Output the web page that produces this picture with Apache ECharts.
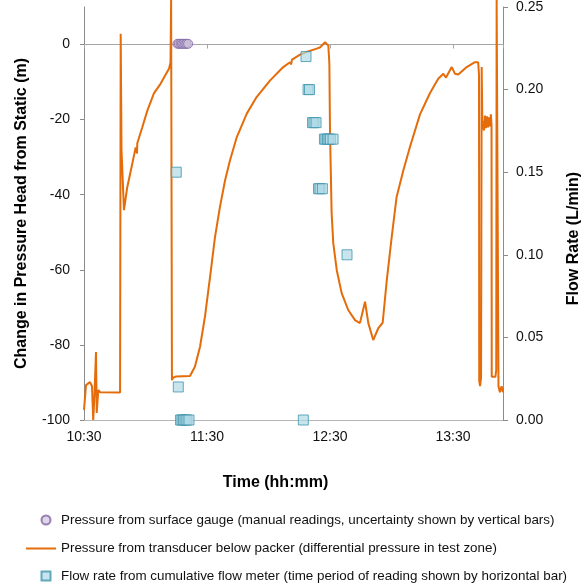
<!DOCTYPE html>
<html><head><meta charset="utf-8">
<script src="https://cdn.jsdelivr.net/npm/echarts@6/dist/echarts.min.js"></script>
<style>html,body{margin:0;padding:0;background:#fff}#c{width:584px;height:584px}</style>
</head><body><div id="c"></div>
<script>
// time in minutes after 10:30
const transducerTime = [0,0.98,1.95,2.93,3.9,4.5,5.1,5.85,6.2,6.98,7.8,17.6,17.9,18.3,19.5,21.1,23.6,25.2,25.85,26.0,28.4,30.9,34.1,37.4,41.5,42.2,42.5,42.9,43.4,44.9,51.7,54.1,56.6,59.0,61.5,63.9,66.3,68.8,71.2,74.5,79.4,84.2,90.7,97.2,100.5,101.0,101.5,105.4,108.6,113.5,115.1,117.6,119.2,119.7,120.0,120.8,121.6,123.3,125.7,128.9,132.2,134.6,137.1,138.7,141.1,143.6,145.7,147.7,150.1,152.5,155.8,159.0,163.9,168.8,172.8,175.3,176.6,179.4,181.0,182.6,186.7,190.7,192.3,192.7,192.8,193.2,193.7,194.0,194.3,195.1,195.6,196.1,196.6,197.1,197.6,198.0,198.5,198.8,198.9,200.7,201.1,201.3,201.9,202.2,202.9,203.7,204.4];
const transducerHead = [-97.3,-90.7,-91.2,-89.9,-91.0,-100,-93.4,-81.9,-98.1,-92.0,-92.6,-92.7,2.9,-28.2,-44.1,-38.0,-31.6,-27.4,-29.0,-26.3,-22.1,-17.6,-13.0,-10.4,-6.4,-4.8,12,-89.4,-88.8,-88.4,-88.3,-85.8,-80.5,-72.5,-61.9,-51.3,-43.3,-36.2,-30.9,-24.7,-18.4,-14.0,-9.6,-6.0,-4.7,-5.3,-4.0,-2.7,-2.0,-1.1,-0.8,0.6,-0.3,-5.1,-22.9,-44.9,-52.9,-60.1,-66.2,-70.7,-73.4,-74.2,-68.5,-74.2,-78.7,-75.5,-74.1,-62.8,-51.3,-40.6,-33.5,-27.3,-18.6,-12.9,-9.1,-7.8,-8.8,-6.0,-7.8,-8.0,-6.0,-4.7,-4.7,-8.2,-89.6,-91.0,-88.8,-6.0,-20.2,-22.9,-18.9,-22.3,-19.1,-22.1,-19.4,-21.8,-18.6,-21.5,-88.5,-88.5,-86.7,12,12,-91.0,-92.6,-91.0,-92.6];
const gaugeTime = [45.6,46.3,47.1,47.8,48.5,49.3,50.0,50.8];
const gaugeHead = [0.2,0.2,0.2,0.2,0.2,0.2,0.2,0.2];
const flowTime = [45.0,46.0,47.1,47.8,48.5,49.3,50.2,51.2,107.0,108.3,109.3,110.0,111.5,112.2,113.2,117.3,118.0,118.8,119.5,120.2,121.5,114.4,115.1,116.3,128.3];
const flowRate = [0.150,0.020,0,0,0,0,0,0,0,0.220,0.200,0.200,0.180,0.180,0.180,0.170,0.170,0.170,0.170,0.170,0.170,0.140,0.140,0.140,0.100];
const headTicks = [-100,-80,-60,-40,-20,0];
const timeTickLabels = ['10:30','11:30','12:30','13:30'];

const N1 = 'Pressure from surface gauge (manual readings, uncertainty shown by vertical bars)';
const N2 = 'Pressure from transducer below packer (differential pressure in test zone)';
const N3 = 'Flow rate from cumulative flow meter (time period of reading shown by horizontal bar)';
const zip = (a,b) => a.map((v,i)=>[v,b[i]]);
const FONT = 'Liberation Sans, Arial, sans-serif';
const legTxt = {fontFamily:FONT,fontSize:13.4,color:'#111'};
const chart = echarts.init(document.getElementById('c'));
chart.setOption({
  animation:false,
  backgroundColor:'#fff',
  textStyle:{fontFamily:FONT},
  grid:{left:84,right:81,top:7,bottom:164,containLabel:false,outerBoundsMode:'none'},
  legend:[
    {data:[{name:N1,icon:'circle'}],left:40.5,top:513.5,padding:0,itemWidth:9,itemHeight:9,
     textStyle:Object.assign({padding:[0,0,0,5.5]},legTxt)},
    {data:[{name:N2,icon:'rect'}],left:26,top:542,padding:0,itemWidth:30,itemHeight:2,
     textStyle:legTxt},
    {data:[{name:N3,icon:'rect'}],left:40.5,top:569.5,padding:0,itemWidth:9,itemHeight:9,
     textStyle:Object.assign({padding:[0,0,0,5.5]},legTxt)}
  ],
  xAxis:[
    {type:'value',min:0,max:204.4,interval:60,position:'bottom',
     axisLine:{show:true,onZero:false,lineStyle:{color:'#b5b5b5',width:1}},
     axisTick:{show:false},splitLine:{show:false},
     axisLabel:{fontFamily:FONT,fontSize:14,color:'#111',margin:10,showMaxLabel:false,
       formatter:v=>timeTickLabels[Math.round(v/60)]||''},
     name:'Time (hh:mm)',nameLocation:'middle',nameGap:55,
     nameTextStyle:{fontFamily:FONT,fontWeight:'bold',fontSize:16,color:'#000',padding:[0,36,0,0]}},
    {type:'value',min:0,max:204.4,interval:60,position:'bottom',
     axisLine:{show:true,onZero:true,onZeroAxisIndex:0,lineStyle:{color:'#a6a6a6',width:1}},
     axisTick:{show:true,length:4,lineStyle:{color:'#a6a6a6'}},
     axisLabel:{show:false},splitLine:{show:false}}
  ],
  yAxis:[
    {type:'value',min:-100,max:10,interval:20,position:'left',
     axisLine:{show:true,onZero:false,lineStyle:{color:'#8c8c8c'}},
     axisTick:{show:true,length:4,customValues:headTicks,lineStyle:{color:'#8c8c8c'}},
     axisLabel:{fontFamily:FONT,fontSize:14,color:'#111',margin:14,customValues:headTicks},
     splitLine:{show:false},
     name:'Change in Pressure Head from Static (m)',nameLocation:'middle',nameGap:54,
     nameTextStyle:{fontFamily:FONT,fontWeight:'bold',fontSize:16,color:'#000'}},
    {type:'value',min:0,max:0.25,interval:0.05,position:'right',
     axisLine:{show:true,onZero:false,lineStyle:{color:'#8c8c8c'}},
     axisTick:{show:true,length:5,lineStyle:{color:'#8c8c8c'}},
     axisLabel:{fontFamily:FONT,fontSize:14,color:'#111',margin:13,formatter:v=>v.toFixed(2)},
     splitLine:{show:false},
     name:'Flow Rate (L/min)',nameLocation:'middle',nameGap:63,
     nameTextStyle:{fontFamily:FONT,fontWeight:'bold',fontSize:16,color:'#000',padding:[0,50,0,0]}}
  ],
  series:[
    {name:N1,type:'scatter',
     xAxisIndex:0,yAxisIndex:0,data:zip(gaugeTime,gaugeHead),symbol:'circle',symbolSize:9,z:4,
     itemStyle:{color:'rgba(204,192,218,0.8)',borderColor:'#8064a2',borderWidth:1}},
    {name:N2,type:'line',clip:false,
     xAxisIndex:0,yAxisIndex:0,data:zip(transducerTime,transducerHead),symbol:'none',z:2,
     lineStyle:{color:'#e46c0a',width:2},itemStyle:{color:'#e46c0a'}},
    {name:N3,type:'scatter',
     xAxisIndex:0,yAxisIndex:1,data:zip(flowTime,flowRate),symbol:'rect',symbolSize:10,z:3,
     itemStyle:{color:'rgba(175,217,230,0.85)',borderColor:'#3f95ad',borderWidth:1}}
  ]
});
</script></body></html>
